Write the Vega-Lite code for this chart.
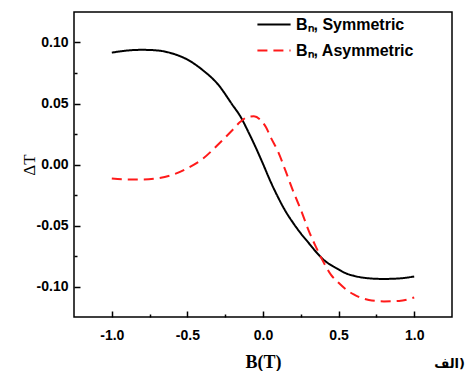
{
  "$schema": "https://vega.github.io/schema/vega-lite/v6.json",
  "width": 378,
  "height": 305,
  "autosize": "none",
  "padding": {"left": 74, "top": 12, "right": 18, "bottom": 54},
  "config": {
    "view": {"stroke": "black", "strokeWidth": 1.5},
    "font": "Liberation Sans",
    "axis": {"domain": false, "grid": false, "ticks": true, "tickColor": "black", "tickOpacity": 1, "tickWidth": 1.5, "labelColor": "black", "titleColor": "black", "zindex": 1}
  },
  "title": {"text": "الف)", "orient": "bottom", "anchor": "end", "fontSize": 13, "fontWeight": "bold", "font": "DejaVu Sans", "offset": -13, "dx": 13, "color": "black"},
  "data": {"values": [
    {"B": -1.0, "dT": 0.0917, "series": "Bₙ, Symmetric"},
    {"B": -0.9, "dT": 0.0934, "series": "Bₙ, Symmetric"},
    {"B": -0.8, "dT": 0.094, "series": "Bₙ, Symmetric"},
    {"B": -0.7, "dT": 0.0935, "series": "Bₙ, Symmetric"},
    {"B": -0.6, "dT": 0.091, "series": "Bₙ, Symmetric"},
    {"B": -0.5, "dT": 0.086, "series": "Bₙ, Symmetric"},
    {"B": -0.4, "dT": 0.0775, "series": "Bₙ, Symmetric"},
    {"B": -0.3, "dT": 0.066, "series": "Bₙ, Symmetric"},
    {"B": -0.2, "dT": 0.0485, "series": "Bₙ, Symmetric"},
    {"B": -0.15, "dT": 0.0395, "series": "Bₙ, Symmetric"},
    {"B": -0.1, "dT": 0.0275, "series": "Bₙ, Symmetric"},
    {"B": -0.05, "dT": 0.0145, "series": "Bₙ, Symmetric"},
    {"B": 0.0, "dT": 0.0005, "series": "Bₙ, Symmetric"},
    {"B": 0.05, "dT": -0.014, "series": "Bₙ, Symmetric"},
    {"B": 0.1, "dT": -0.027, "series": "Bₙ, Symmetric"},
    {"B": 0.15, "dT": -0.0385, "series": "Bₙ, Symmetric"},
    {"B": 0.2, "dT": -0.048, "series": "Bₙ, Symmetric"},
    {"B": 0.25, "dT": -0.0565, "series": "Bₙ, Symmetric"},
    {"B": 0.3, "dT": -0.064, "series": "Bₙ, Symmetric"},
    {"B": 0.35, "dT": -0.0715, "series": "Bₙ, Symmetric"},
    {"B": 0.4, "dT": -0.078, "series": "Bₙ, Symmetric"},
    {"B": 0.45, "dT": -0.0825, "series": "Bₙ, Symmetric"},
    {"B": 0.5, "dT": -0.086, "series": "Bₙ, Symmetric"},
    {"B": 0.55, "dT": -0.0893, "series": "Bₙ, Symmetric"},
    {"B": 0.6, "dT": -0.0912, "series": "Bₙ, Symmetric"},
    {"B": 0.7, "dT": -0.0933, "series": "Bₙ, Symmetric"},
    {"B": 0.8, "dT": -0.0938, "series": "Bₙ, Symmetric"},
    {"B": 0.9, "dT": -0.0934, "series": "Bₙ, Symmetric"},
    {"B": 1.0, "dT": -0.0918, "series": "Bₙ, Symmetric"},
    {"B": -1.0, "dT": -0.0114, "series": "Bₙ, Asymmetric"},
    {"B": -0.9, "dT": -0.0122, "series": "Bₙ, Asymmetric"},
    {"B": -0.8, "dT": -0.0123, "series": "Bₙ, Asymmetric"},
    {"B": -0.7, "dT": -0.0114, "series": "Bₙ, Asymmetric"},
    {"B": -0.6, "dT": -0.0085, "series": "Bₙ, Asymmetric"},
    {"B": -0.5, "dT": -0.003, "series": "Bₙ, Asymmetric"},
    {"B": -0.4, "dT": 0.0045, "series": "Bₙ, Asymmetric"},
    {"B": -0.3, "dT": 0.016, "series": "Bₙ, Asymmetric"},
    {"B": -0.2, "dT": 0.0285, "series": "Bₙ, Asymmetric"},
    {"B": -0.15, "dT": 0.035, "series": "Bₙ, Asymmetric"},
    {"B": -0.1, "dT": 0.039, "series": "Bₙ, Asymmetric"},
    {"B": -0.06, "dT": 0.0395, "series": "Bₙ, Asymmetric"},
    {"B": -0.02, "dT": 0.037, "series": "Bₙ, Asymmetric"},
    {"B": 0.02, "dT": 0.0305, "series": "Bₙ, Asymmetric"},
    {"B": 0.05, "dT": 0.0225, "series": "Bₙ, Asymmetric"},
    {"B": 0.1, "dT": 0.0105, "series": "Bₙ, Asymmetric"},
    {"B": 0.15, "dT": -0.0055, "series": "Bₙ, Asymmetric"},
    {"B": 0.2, "dT": -0.022, "series": "Bₙ, Asymmetric"},
    {"B": 0.25, "dT": -0.037, "series": "Bₙ, Asymmetric"},
    {"B": 0.3, "dT": -0.0535, "series": "Bₙ, Asymmetric"},
    {"B": 0.35, "dT": -0.0675, "series": "Bₙ, Asymmetric"},
    {"B": 0.4, "dT": -0.08, "series": "Bₙ, Asymmetric"},
    {"B": 0.45, "dT": -0.0905, "series": "Bₙ, Asymmetric"},
    {"B": 0.5, "dT": -0.097, "series": "Bₙ, Asymmetric"},
    {"B": 0.55, "dT": -0.1025, "series": "Bₙ, Asymmetric"},
    {"B": 0.6, "dT": -0.1065, "series": "Bₙ, Asymmetric"},
    {"B": 0.7, "dT": -0.111, "series": "Bₙ, Asymmetric"},
    {"B": 0.8, "dT": -0.1122, "series": "Bₙ, Asymmetric"},
    {"B": 0.9, "dT": -0.1118, "series": "Bₙ, Asymmetric"},
    {"B": 1.0, "dT": -0.109, "series": "Bₙ, Asymmetric"}
  ]},
  "layer": [
    {
      "mark": {"type": "line", "strokeWidth": 2, "interpolate": "monotone"},
      "encoding": {
        "x": {"field": "B", "type": "quantitative", "scale": {"domain": [-1.25, 1.25], "nice": false, "zero": false},
          "axis": {"values": [-1, -0.5, 0, 0.5, 1], "labelExpr": "replace(format(datum.value, '.1f'), '\u2212', '-')", "labelFontSize": 14, "labelFontWeight": "bold", "offset": -6, "ticks": true, "tickSize": 6, "labelPadding": 11, "title": "B(T)", "titleFont": "Liberation Serif", "titleFontSize": 18, "titleFontWeight": "bold", "titlePadding": 11}},
        "y": {"field": "dT", "type": "quantitative", "scale": {"domain": [-0.125, 0.125], "nice": false, "zero": false},
          "axis": {"values": [-0.1, -0.05, 0, 0.05, 0.1], "labelExpr": "replace(format(datum.value, '.2f'), '\u2212', '-')", "labelFontSize": 14, "labelFontWeight": "bold", "offset": -6, "ticks": true, "tickSize": 6, "labelPadding": 6, "title": "ΔT", "titleFont": "Liberation Serif", "titleFontSize": 17, "titleFontWeight": "normal", "titlePadding": -2}},
        "color": {"field": "series", "type": "nominal", "scale": {"domain": ["Bₙ, Symmetric", "Bₙ, Asymmetric"], "range": ["black", "#ff1a1a"]},
          "legend": {"title": null, "orient": "none", "legendX": 182, "legendY": -5.5, "labelFontSize": 16, "labelFontWeight": "bold", "labelColor": "black", "symbolType": "stroke", "symbolSize": 1100, "symbolStrokeWidth": 2.2, "rowPadding": -5.5, "labelOffset": 4, "labelLimit": 300}},
        "strokeDash": {"field": "series", "type": "nominal", "scale": {"domain": ["Bₙ, Symmetric", "Bₙ, Asymmetric"], "range": [[1, 0], [10, 6]]},
          "legend": {"title": null, "orient": "none", "legendX": 182, "legendY": -5.5, "labelFontSize": 16, "labelFontWeight": "bold", "labelColor": "black", "symbolType": "stroke", "symbolSize": 1100, "symbolStrokeWidth": 2.2, "rowPadding": -5.5, "labelOffset": 4, "labelLimit": 300}}
      }
    },
    {
      "mark": {"type": "line", "strokeOpacity": 0},
      "encoding": {
        "detail": {"field": "series", "type": "nominal"},
        "x": {"field": "B", "type": "quantitative", "axis": {"orient": "bottom", "values": [-0.75, -0.25, 0.25, 0.75], "labels": false, "offset": -3, "ticks": true, "tickSize": 3, "title": null}},
        "y": {"field": "dT", "type": "quantitative", "axis": {"orient": "left", "values": [-0.075, -0.025, 0.025, 0.075], "labels": false, "offset": -3, "ticks": true, "tickSize": 3, "title": null}}
      }
    }
  ],
  "resolve": {"axis": {"x": "independent", "y": "independent"}}
}
